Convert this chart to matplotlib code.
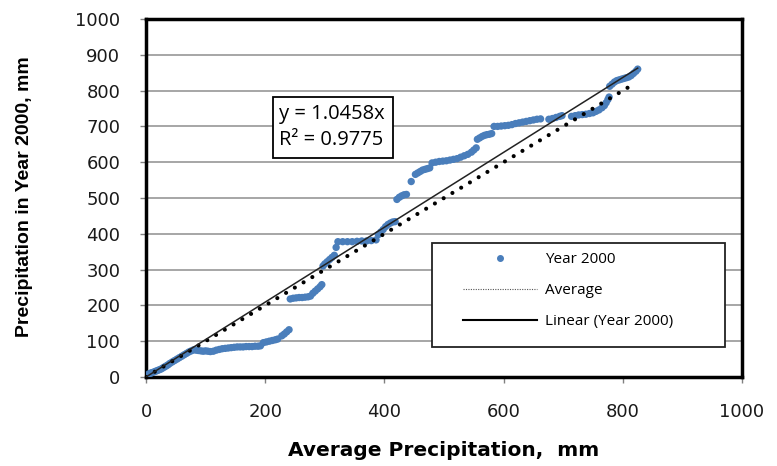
import matplotlib
matplotlib.use("Agg")
import matplotlib.pyplot as plt
from matplotlib.lines import Line2D
from matplotlib.patches import Rectangle

# ---- data ----
avg_precip = [2, 5, 8, 10, 13, 16, 19, 22, 25, 28, 31, 34, 37, 40, 44, 48, 52, 56, 60, 64, 68, 72, 76, 80,
              84, 88, 92, 96, 100, 104, 108,
              113, 118, 123, 128, 133, 138, 143, 148, 153, 158, 163, 168, 173, 178, 183, 188, 192,
              197, 202, 207, 212, 217, 221,
              228, 232, 236, 240,
              242, 247, 252, 257, 262, 267, 272, 276,
              280, 284, 288, 292, 295,
              297, 300, 304, 308, 312, 316, 319,
              322, 330, 338, 346, 354, 362, 370, 378, 386,
              390, 394, 398, 402, 406, 410, 414, 418,
              421, 425, 429, 433, 437, 445,
              452, 456, 460, 464, 468, 472, 476,
              480, 486, 492, 498, 504, 510, 516, 522, 528, 534, 540, 546, 550, 554,
              556, 560, 564, 568, 572, 576, 580,
              584, 590, 596, 602, 608, 614, 620, 626, 632, 638, 644, 650, 656, 662,
              676, 682, 688, 694, 698,
              714, 720, 726, 732, 738, 744, 750, 755, 760, 765, 769, 772, 775, 777,
              778, 782, 786, 790, 794, 798, 802, 806, 810, 814, 818, 822, 825]
year2000 = [4, 9, 11, 12, 14, 16, 18, 20, 22, 25, 28, 31, 34, 38, 42, 46, 50, 54, 58, 62, 66, 70, 73, 76,
            75, 74, 73, 72, 73, 72, 71,
            72, 75, 77, 79, 80, 81, 82, 83, 84, 84, 84, 85, 85, 85, 86, 86, 87,
            96, 98, 100, 102, 104, 106,
            115, 120, 126, 132,
            218, 220, 221, 222, 222, 223, 224, 226,
            234, 240, 246, 252, 258,
            310, 316, 322, 328, 334, 340, 362,
            378, 378, 378, 378, 379, 380, 380, 381, 383,
            398, 405, 412, 420, 426, 430, 433, 434,
            496, 502, 506, 509, 510, 546,
            566, 570, 574, 578, 580, 582, 584,
            598, 600, 602, 603, 604, 606, 608, 610, 614, 618, 622, 628, 634, 640,
            664, 668, 672, 675, 677, 678, 680,
            700, 700, 701, 702, 703, 705, 708, 710, 712, 714, 716, 718, 720, 721,
            720, 722, 725, 728, 730,
            728, 730, 732, 733, 734, 736, 738, 742, 746, 752, 758, 766, 775, 782,
            812, 818, 824, 828, 830, 832, 834, 836, 838, 842, 848, 854, 860]
average_x = [0, 820]
average_y = [0, 820]
trend_slope = 1.0458
trend_r2 = 0.9775
trend_x = [0, 825]
trend_y = [trend_slope * v for v in trend_x]

x_ticks = [0, 200, 400, 600, 800, 1000]
y_ticks = [0, 100, 200, 300, 400, 500, 600, 700, 800, 900, 1000]

blue = "#4a7ebb"

W, H = 777, 466
fig = plt.figure(figsize=(W / 100, H / 100), dpi=100)
ax_l, ax_r, ax_t, ax_b = 146, 742, 19, 377
ax = fig.add_axes([ax_l / W, 1 - ax_b / H, (ax_r - ax_l) / W, (ax_b - ax_t) / H])


def px2ax(px, py):
    return (px - ax_l) / (ax_r - ax_l), (ax_b - py) / (ax_b - ax_t)


ax.set_xlim(0, 1000)
ax.set_ylim(0, 1000)
ax.set_xticks(x_ticks)
ax.set_yticks(y_ticks)

ax.grid(axis="y", color="#a6a6a6", lw=1.4, zorder=0)
ax.set_axisbelow(True)

ax.scatter(avg_precip, year2000, s=28, color=blue, edgecolors="none", zorder=3)
ax.plot(average_x, average_y, color="black", lw=3.0, linestyle=(0, (0.001, 2.45)),
        dash_capstyle="round", zorder=4)
ax.plot(trend_x, trend_y, color="#222222", lw=1.1, zorder=4)

for s in ax.spines.values():
    s.set_color("black")
    s.set_linewidth(2.5)

ax.tick_params(axis="both", direction="out", length=4, width=1, color="#808080",
               labelsize=13, labelcolor="#1a1a1a")
ax.tick_params(axis="x", pad=15)
ax.tick_params(axis="y", pad=14.5)

ax.set_xlabel("Average Precipitation,  mm", fontsize=14.5, fontweight="bold",
              family=["DejaVu Sans"])
ax.xaxis.set_label_coords(0.5, -0.178)
ax.set_ylabel("Precipitation in Year 2000, mm", fontsize=14, fontweight="bold",
              family=["Liberation Sans Narrow", "Liberation Sans"])
ax.yaxis.set_label_coords(-0.19, 0.505)

# equation box
ex0, ey0 = px2ax(273, 158)
ex1, ey1 = px2ax(393, 97)
ax.add_patch(Rectangle((ex0, ey0), ex1 - ex0, ey1 - ey0, transform=ax.transAxes,
                       facecolor="white", edgecolor="black", lw=1.3, zorder=6))
tx, ty = px2ax(279, 127)
ax.text(tx, ty, "y = %.4fx\nR² = %.4f" % (trend_slope, trend_r2),
        transform=ax.transAxes, fontsize=14.5, family=["Open Sans", "DejaVu Sans"],
        va="center", ha="left", linespacing=1.35, zorder=7)

# legend frame drawn as a box, legend entries placed inside it
bx0, by0 = px2ax(432, 347)
bx1, by1 = px2ax(725, 243)
ax.add_patch(Rectangle((bx0, by0), bx1 - bx0, by1 - by0, transform=ax.transAxes,
                       facecolor="white", edgecolor="#222222", lw=1.3, zorder=7))

handles = [
    Line2D([], [], marker="o", ls="none", color=blue, ms=4),
    Line2D([], [], color="#555555", lw=0.8, ls=(0, (1, 1.2))),
    Line2D([], [], color="black", lw=1.5),
]
labels = ["Year 2000", "Average", "Linear (Year 2000)"]
lx, ly = px2ax(463, 252)
leg = ax.legend(handles, labels, loc="upper left", bbox_to_anchor=(lx, ly),
                numpoints=1, handlelength=4.85, handletextpad=0.5, borderpad=0,
                labelspacing=1.05, borderaxespad=0, frameon=False,
                prop={"family": ["Open Sans", "DejaVu Sans"], "size": 11})
leg.set_zorder(8)

fig.savefig("out.png", dpi=100)
